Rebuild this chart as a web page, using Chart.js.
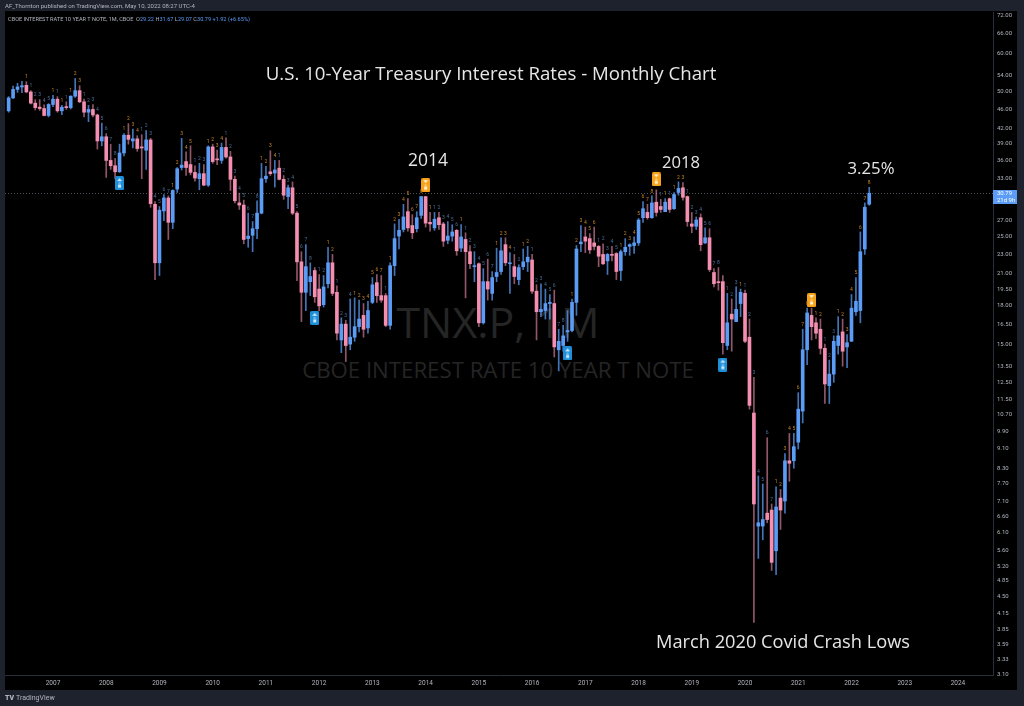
<!DOCTYPE html>
<html>
<head>
<meta charset="utf-8">
<title>U.S. 10-Year Treasury Interest Rates - Monthly Chart</title>
<script src="https://cdn.jsdelivr.net/npm/chart.js@4.4.1/dist/chart.umd.min.js"></script>
<style>
  html, body { margin:0; padding:0; width:1024px; height:706px; overflow:hidden; background:#1e222d; }
  #panel { position:absolute; left:5px; top:11px; width:1012px; height:679px; background:#000; z-index:0; }
  #wrap { position:absolute; left:0; top:0; width:1024px; height:706px; z-index:2; }
  .txt { position:absolute; white-space:nowrap; line-height:1; }
  .c { transform:translate(-50%,-50%); }
  .wm { z-index:1; color:#252525; font-family:"Open Sans",sans-serif; }
  .ann { z-index:3; color:#e6e6e6; font-family:"Open Sans",sans-serif; }
  #hdr { left:5px; top:3px; font-family:Roboto,sans-serif; font-size:6px; color:#b2b5be; z-index:3; }
  #leg { left:8px; top:17px; font-family:Roboto,sans-serif; font-size:5.6px; color:#b2b5be; z-index:3; }
  #leg .v { color:#5b9cf6; }
  #ftr { left:5px; top:695px; font-family:Roboto,sans-serif; font-size:7px; color:#b2b5be; z-index:3; }
  #ftr b { font-weight:900; margin-right:2px; }
</style>
</head>
<body>
<div id="panel"></div>
<div class="txt wm c" id="wm1" data-w="203" style="left:498px;top:322px;font-size:50px;">TNX.P, 1M</div>
<div class="txt wm c" id="wm2" data-w="392" style="left:498px;top:370px;font-size:23px;">CBOE INTEREST RATE 10 YEAR T NOTE</div>
<div id="wrap"><canvas id="c" width="1024" height="706"></canvas></div>
<div class="txt" id="hdr">AF_Thornton published on TradingView.com, May 10, 2022 08:27 UTC-4</div>
<div class="txt" id="leg">CBOE INTEREST RATE 10 YEAR T NOTE, 1M, CBOE&nbsp; O<span class="v">29.22</span> H<span class="v">31.67</span> L<span class="v">29.07</span> C<span class="v">30.79</span> <span class="v">+1.92 (+6.65%)</span></div>
<div class="txt ann c" data-w="451" style="left:491px;top:73px;font-size:19px;">U.S. 10-Year Treasury Interest Rates - Monthly Chart</div>
<div class="txt ann c" data-w="40" style="left:428px;top:160px;font-size:18px;">2014</div>
<div class="txt ann c" data-w="38" style="left:681px;top:162px;font-size:18px;">2018</div>
<div class="txt ann c" data-w="47" style="left:871px;top:168px;font-size:18px;">3.25%</div>
<div class="txt ann c" data-w="254" style="left:783px;top:641px;font-size:18px;">March 2020 Covid Crash Lows</div>
<div class="txt" id="ftr"><b>TV</b>TradingView</div>
<script>
// ---------------- DATA (TNX = 10-yr yield x 10), monthly, from March 2006 ----------------
const firstMonth = '2006-03';
const opens = [
  45.6,48.5,50.5,51.1,51.5,49.9,47.3,46.4,46.1,44.6,
  47.0,48.2,45.6,46.5,46.3,48.9,50.2,47.6,45.3,45.9,44.7,39.5,
  40.3,36.0,35.1,34.1,37.3,40.6,39.5,39.9,38.4,37.8,39.7,29.2,
  22.1,28.3,30.1,26.8,31.4,34.8,35.8,35.3,34.0,33.0,33.8,32.0,
  38.4,36.2,36.0,38.3,36.6,32.9,29.4,29.1,24.8,25.2,26.0,28.0,
  33.0,34.1,33.9,34.7,32.9,30.3,31.6,28.0,22.2,19.2,20.2,21.3,
  19.5,18.1,20.0,22.1,19.2,15.3,16.5,15.0,15.5,16.3,17.2,16.2,
  18.3,20.1,18.9,18.9,16.4,21.8,25.1,25.9,28.2,26.4,26.0,27.7,
  30.3,26.8,26.1,27.4,26.6,24.6,25.1,25.8,23.7,24.7,23.3,21.7,
  22.0,16.6,20.2,19.1,20.7,21.2,24.1,22.0,21.7,20.4,21.7,22.2,
  22.4,19.3,17.5,17.6,18.2,18.2,14.6,14.9,15.9,16.0,18.3,24.2,
  25.0,24.8,24.3,23.9,23.0,22.3,23.0,23.1,21.3,23.3,23.9,24.0,
  24.3,27.4,28.1,27.4,29.5,28.9,28.2,30.0,28.6,30.9,31.6,30.3,
  26.6,26.3,27.4,24.3,24.9,21.1,20.2,20.2,14.9,17.3,16.7,18.2,
  19.1,15.5,10.8,6.3,6.3,6.7,6.8,5.6,7.2,7.1,8.6,8.6,
  9.4,10.9,14.6,17.2,16.6,16.1,14.7,12.3,13.0,14.9,15.9,14.8,
  15.2,17.5,17.6,23.6,29.22
];
const highs = [
  48.8,51.3,52.0,52.5,52.4,50.2,48.1,48.1,46.9,47.2,
  49.1,48.8,46.8,47.6,49.0,53.2,51.4,48.2,46.8,47.0,44.9,43.0,
  40.9,38.9,36.3,38.9,40.9,42.9,41.8,40.5,40.7,41.5,40.0,29.6,
  28.9,30.6,30.4,31.3,34.8,40.0,37.5,38.6,35.1,35.5,35.3,38.6,
  38.9,37.8,39.1,40.1,37.6,33.4,30.8,29.8,28.0,26.9,29.7,35.5,
  35.0,37.7,36.0,36.0,33.5,32.0,32.5,28.2,23.3,24.1,22.1,21.6,
  20.9,20.8,23.8,23.0,19.8,17.0,16.8,18.6,18.7,18.5,18.2,18.4,
  20.6,20.9,20.8,19.1,22.1,26.6,27.2,29.2,30.0,27.8,28.2,30.3,
  30.3,28.1,28.1,28.1,26.8,26.9,26.5,25.9,26.5,25.5,24.0,23.3,
  22.1,21.5,22.5,21.2,23.7,24.9,24.9,23.2,23.0,21.9,23.6,23.9,
  23.0,19.9,20.0,19.5,19.0,19.4,16.1,16.4,17.6,18.6,24.0,26.4,
  26.2,25.4,26.2,24.0,24.2,23.1,23.9,23.2,23.5,24.8,24.2,25.0,
  27.3,29.6,29.2,30.4,31.3,29.9,30.0,30.1,30.9,32.5,32.4,30.4,
  28.1,27.5,27.9,26.1,26.0,21.5,21.6,20.8,19.1,18.6,19.7,19.5,
  19.4,16.9,12.8,8.0,7.7,9.6,7.0,7.6,7.5,8.9,9.8,9.8,
  11.9,16.1,17.8,17.8,17.0,16.9,15.0,13.9,15.6,17.1,16.9,15.7,
  19.0,20.6,25.6,29.4,31.67
];
const lows = [
  45.3,48.3,49.8,49.7,49.7,47.1,45.8,45.7,44.5,44.3,
  46.5,45.3,44.8,45.9,46.0,48.6,47.4,44.3,43.3,44.3,38.0,38.6,
  33.2,34.5,33.0,34.0,36.8,38.9,38.2,37.6,33.0,34.5,28.8,20.4,
  20.8,27.0,24.7,26.0,30.9,34.4,33.5,33.6,32.6,31.3,31.9,31.8,
  35.5,35.3,35.5,36.4,31.2,29.4,28.5,24.2,23.8,23.3,24.8,27.9,
  32.4,33.5,31.7,32.8,29.9,28.6,27.8,20.3,16.7,17.6,18.9,18.3,
  17.6,17.9,19.6,18.9,15.3,14.4,13.8,14.6,15.2,15.9,15.5,15.8,
  18.2,18.3,18.3,16.3,16.1,20.8,23.6,25.6,25.7,24.8,25.6,27.3,
  26.2,25.7,25.8,25.9,23.9,24.2,24.5,22.9,23.3,18.7,21.5,20.2,
  16.3,16.5,18.5,18.5,20.2,20.9,21.8,19.1,20.0,19.9,21.4,21.2,
  19.1,15.3,17.1,16.9,16.9,14.1,13.2,14.5,15.2,15.9,17.2,23.3,
  23.2,23.1,23.5,21.7,21.9,20.9,22.3,20.4,20.3,22.9,22.9,23.1,
  24.0,26.8,27.2,27.3,27.6,28.1,28.2,28.1,28.5,30.5,29.8,26.3,
  25.5,25.9,23.4,24.2,21.2,19.7,19.4,14.3,14.6,14.5,16.7,17.1,
  15.1,11.0,3.98,5.4,5.9,6.4,5.1,5.0,6.2,6.7,7.8,8.3,
  9.1,10.3,13.6,15.3,15.4,14.3,11.3,11.3,12.5,14.3,13.5,13.4,
  15.2,17.2,16.6,23.0,29.07
];
const closes = [
  48.5,50.5,51.1,51.4,49.9,47.3,46.3,46.1,44.6,47.0,
  48.2,45.6,46.4,46.3,48.9,50.2,47.6,45.3,45.9,44.7,39.5,40.3,
  36.0,35.1,34.1,37.3,40.6,39.8,39.9,38.1,38.2,39.7,29.3,22.1,
  28.4,30.1,26.8,31.2,34.6,35.2,34.8,34.0,33.1,33.8,32.0,38.4,
  35.8,36.1,38.3,36.6,32.9,29.7,29.1,24.7,25.1,26.0,28.0,33.0,
  33.4,33.8,34.4,32.9,30.5,31.6,28.0,22.2,19.2,21.7,20.7,18.8,
  18.0,19.7,22.1,19.1,15.8,16.5,14.9,15.5,16.3,16.9,16.1,17.6,
  19.9,18.9,18.5,16.4,21.8,24.8,25.8,27.5,26.1,25.5,27.4,30.3,
  26.7,26.6,27.2,26.5,24.5,25.1,25.6,23.4,25.0,23.3,22.0,21.8,
  16.6,20.2,19.5,20.6,21.1,23.4,22.1,22.1,20.7,21.6,22.2,22.7,
  19.3,17.5,17.7,18.2,18.3,14.8,15.2,15.6,16.0,18.3,23.6,24.4,
  24.5,23.5,23.9,22.8,22.0,23.0,22.9,21.2,23.3,23.8,24.1,24.3,
  27.1,28.6,27.4,29.4,28.1,28.5,29.5,28.5,30.6,31.5,30.2,26.9,
  26.3,27.1,24.1,24.9,21.4,20.0,20.1,15.1,16.6,16.9,17.7,19.2,
  15.2,11.2,7.0,6.4,6.5,6.5,5.3,6.9,6.8,8.6,8.5,9.2,
  11.0,14.6,17.4,16.3,15.8,14.7,12.4,13.0,15.2,15.6,14.5,15.1,
  17.8,18.4,23.3,28.8,30.79
];
const yearLabels = ['2007','2008','2009','2010','2011','2012','2013','2014','2015','2016','2017','2018','2019','2020','2021','2022','2023','2024'];
const priceTicks = [72,66,60,54,50,46,42,39,36,33,27,25,23,21,19.5,18,16.5,15,13.5,12.5,11.5,10.7,9.9,9.1,8.3,7.7,7.1,6.6,6.1,5.6,5.2,4.85,4.5,4.15,3.85,3.59,3.33,3.10];
// TD Sequential "9" badges
const badgeMonths = ['2008-04','2011-12','2014-01','2016-09','2018-05','2019-08','2021-04'];
const badgeValues = [32.3,17.0,32.0,14.35,32.9,13.6,18.5];
const badgeTypes  = ['buy','buy','sell','buy','sell','buy','sell'];
const lastBarTimer = '21d 9h';

// ---------------- helpers ----------------
const [fy, fm] = firstMonth.split('-').map(Number);
const monthLabels = closes.map((_, i) => { const t = fy*12 + (fm-1) + i; return Math.floor(t/12) + '-' + String(t%12+1).padStart(2,'0'); });
const monthIndex = lbl => { const [y, m] = lbl.split('-').map(Number); return (y - Number(yearLabels[0]))*12 + (m-1); };
const xs = monthLabels.map(monthIndex);
const UP = '#5b9cf6', DOWN = '#f48fb1';
const UPW = 'rgba(91,156,246,0.75)', DOWNW = 'rgba(244,143,177,0.6)';
const isUp = closes.map((c, i) => c >= opens[i]);

const wickData = xs.map((x, i) => ({ x, y: [Math.min(lows[i], opens[i], closes[i]), Math.max(highs[i], opens[i], closes[i])] }));
const bodyData = xs.map((x, i) => ({ x, y: [Math.min(opens[i], closes[i]), Math.max(opens[i], closes[i])] }));

function makeBadge(fill, glyph, up) {
  const c = document.createElement('canvas'); c.width = 9; c.height = 14;
  const g = c.getContext('2d');
  g.fillStyle = fill; g.beginPath();
  if (g.roundRect) g.roundRect(0, 0, 9, 14, 1.5); else g.rect(0, 0, 9, 14);
  g.fill();
  g.fillStyle = glyph;
  g.beginPath();
  if (up) { g.moveTo(4.5, 2); g.lineTo(7, 5); g.lineTo(2, 5); }
  else { g.moveTo(2, 2); g.lineTo(7, 2); g.lineTo(4.5, 5); }
  g.fill();
  g.fillRect(3.5, 6.5, 2, 1);
  g.fillRect(3, 8.5, 3, 3);
  return c;
}
const sellImg = makeBadge('#f7a21b', '#fff3d6', false);
const buyImg = makeBadge('#1e8fd9', '#cfeaff', true);
const badgeSet = new Set(badgeMonths.map(monthIndex));

const tdPlugin = {
  id: 'tdSetup',
  afterDatasetsDraw(chart) {
    const { ctx, scales: { x, y } } = chart;
    ctx.save();
    ctx.font = '5px Roboto';
    ctx.textAlign = 'center';
    ctx.textBaseline = 'bottom';
    let buy = 0, sell = 0;
    for (let i = 4; i < closes.length; i++) {
      if (closes[i] > closes[i-4]) { sell = sell >= 9 ? 1 : sell + 1; buy = 0; }
      else if (closes[i] < closes[i-4]) { buy = buy >= 9 ? 1 : buy + 1; sell = 0; }
      else { buy = 0; sell = 0; }
      const n = sell || buy;
      if (!n) continue;
      if (n === 9 && badgeSet.has(xs[i])) continue;
      ctx.fillStyle = sell ? '#c98428' : '#4a6f9c';
      ctx.fillText(String(n), x.getPixelForValue(xs[i]), y.getPixelForValue(highs[i]) - 2);
    }
    ctx.restore();
  }
};

const pricePlugin = {
  id: 'priceLine',
  beforeDatasetsDraw(chart) {
    const { ctx, chartArea: a, scales: { y } } = chart;
    const py = Math.round(y.getPixelForValue(closes[closes.length-1])) + 0.5;
    ctx.save();
    ctx.strokeStyle = 'rgba(140,150,170,0.55)';
    ctx.setLineDash([1, 2]);
    ctx.lineWidth = 1;
    ctx.beginPath(); ctx.moveTo(a.left, py); ctx.lineTo(a.right, py); ctx.stroke();
    ctx.restore();
  },
  afterDraw(chart) {
    const { ctx, chartArea: a, scales: { y } } = chart;
    const last = closes[closes.length-1];
    const py = Math.round(y.getPixelForValue(last));
    ctx.save();
    ctx.fillStyle = '#5b9cf6';
    ctx.fillRect(a.right, py - 3, 24, 14);
    ctx.fillStyle = '#ffffff';
    ctx.font = '6px Roboto';
    ctx.textAlign = 'left';
    ctx.textBaseline = 'middle';
    ctx.fillText(last.toFixed(2), a.right + 4, py + 0.5);
    ctx.fillText(lastBarTimer, a.right + 4, py + 7.5);
    ctx.restore();
  }
};

Chart.defaults.font.family = 'Roboto';
new Chart(document.getElementById('c'), {
  type: 'bar',
  data: {
    datasets: [
      { type: 'scatter', data: badgeMonths.map((m, i) => ({ x: monthIndex(m), y: badgeValues[i] })),
        pointStyle: badgeTypes.map(t => t === 'sell' ? sellImg : buyImg), order: 0 },
      { label: 'body', data: bodyData, backgroundColor: isUp.map(u => u ? UP : DOWN),
        barThickness: 3, minBarLength: 1, grouped: false, order: 1 },
      { label: 'wick', data: wickData, backgroundColor: isUp.map(u => u ? UPW : DOWNW),
        barThickness: 1, grouped: false, order: 2 }
    ]
  },
  options: {
    responsive: false,
    animation: false,
    devicePixelRatio: 1,
    layout: { padding: { left: 5, right: 7, top: 12, bottom: 16 } },
    plugins: { legend: { display: false }, tooltip: { enabled: false }, title: { display: false } },
    scales: {
      x: {
        type: 'linear', min: -10.82, max: 211.9, offset: false,
        grid: { display: false, drawTicks: false },
        border: { display: true, color: '#2a2e39' },
        afterBuildTicks: s => { s.ticks = yearLabels.map((_, k) => ({ value: k*12 })); },
        afterFit: s => { s.height = 15; },
        ticks: { autoSkip: false, maxRotation: 0, padding: 4, color: '#b2b5be', font: { size: 6.5 },
                 callback: v => yearLabels[Math.round(v/12)] }
      },
      y: {
        type: 'logarithmic', position: 'right', min: 3.098, max: 73.04,
        grid: { display: false, drawTicks: false },
        border: { display: true, color: '#2a2e39' },
        afterBuildTicks: s => { s.ticks = priceTicks.map(v => ({ value: v })); },
        afterFit: s => { s.width = 24; },
        ticks: { autoSkip: false, padding: 4, color: '#b2b5be', font: { size: 6 },
                 callback: v => Number(v).toFixed(2) }
      }
    }
  },
  plugins: [pricePlugin, tdPlugin]
});

// fit overlay text widths to the reference
document.querySelectorAll('[data-w]').forEach(el => {
  const w = Number(el.dataset.w);
  const fs = parseFloat(getComputedStyle(el).fontSize);
  const cw = el.getBoundingClientRect().width;
  if (cw > 0) el.style.fontSize = (fs * w / cw).toFixed(2) + 'px';
});
</script>
</body>
</html>
